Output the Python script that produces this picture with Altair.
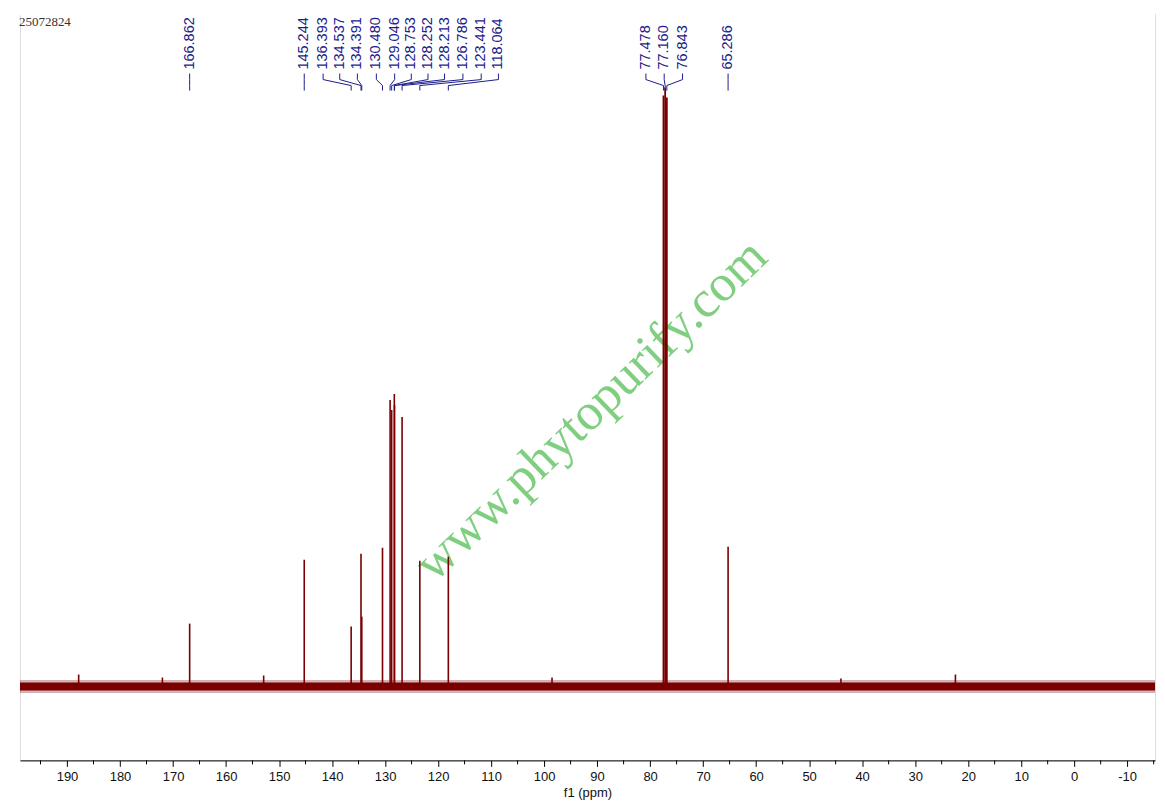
import altair as alt
import pandas as pd

# ---------------- data ----------------
header = "25072824"

peak_ppm = [166.862, 145.244, 136.393, 134.537, 134.391, 130.480, 129.046,
            128.753, 128.252, 128.213, 126.786, 123.441, 118.064,
            77.478, 77.160, 76.843, 65.286]
peak_int = [63, 127, 60, 133, 70, 139, 287,
            277, 293, 282, 270, 126, 130,
            592, 600, 590, 140]
# where each (rotated) peak label sits along the ppm axis
label_ppm = [166.862, 145.244, 141.68, 138.55, 135.22, 131.64, 128.19,
             125.05, 121.90, 118.78, 115.31, 111.86, 108.61,
             80.79, 77.34, 73.88, 65.286]

# a few visible noise spikes on the baseline
small_ppm = [187.8, 152.9, 22.4, 172.0, 98.5, 44.0]
small_int = [12, 11, 12, 9, 9, 8]

major_ticks = [190, 180, 170, 160, 150, 140, 130, 120, 110, 100, 90, 80,
               70, 60, 50, 40, 30, 20, 10, 0, -10]
minor_ticks = [195, 185, 175, 165, 155, 145, 135, 125, 115, 105, 95, 85,
               75, 65, 55, 45, 35, 25, 15, 5, -5, -15]

watermark = "www.phytopurify.com"
wm_ppm, wm_int = 91.15, 277

X_DOMAIN = [198.87, -15.25]
Y_DOMAIN = [-74, 674]
TEXT_Y = 618
CONN_Y = [614, 608, 602, 597]

SPEC = "#7a0000"
NAVY = "#1c1c8c"

W, H = 1137, 748

xs = alt.Scale(domain=X_DOMAIN, nice=False, zero=False)
ys = alt.Scale(domain=Y_DOMAIN, nice=False, zero=False)

peaks = pd.DataFrame({"ppm": peak_ppm + small_ppm,
                      "inten": peak_int + small_int})
labels = pd.DataFrame({"ppm": label_ppm,
                       "txt": [f"{p:.3f}" for p in peak_ppm]})
rows = []
for i, (p, l) in enumerate(zip(peak_ppm, label_ppm)):
    rows += [(i, 0, l, CONN_Y[0]), (i, 1, l, CONN_Y[1]),
             (i, 2, p, CONN_Y[2]), (i, 3, p, CONN_Y[3])]
conn = pd.DataFrame(rows, columns=["id", "o", "ppm", "y"])
base = pd.DataFrame({"x1": [X_DOMAIN[0]], "x2": [X_DOMAIN[1]], "y": [0]})
wm = pd.DataFrame({"ppm": [wm_ppm], "y": [wm_int], "t": [watermark]})
hd = pd.DataFrame({"t": [header]})
mt = pd.DataFrame({"ppm": minor_ticks})

xaxis = alt.Axis(
    values=major_ticks,
    labelExpr="'' + datum.value",
    tickSize=6, tickColor="black", domainColor="black", tickWidth=1, domainWidth=1,
    labelFont="Liberation Sans", labelFontSize=13, labelColor="#111",
    labelPadding=4, labelOverlap=False, labelFlush=False,
    title="f1 (ppm)", titleFont="Liberation Sans", titleFontSize=13,
    titleFontWeight="normal", titleColor="#111", titlePadding=3,
    grid=False,
)

X = alt.X("ppm:Q", scale=xs, axis=xaxis)


def Y(f):
    return alt.Y(f, scale=ys, axis=None)


wm_layer = alt.Chart(wm).mark_text(
    angle=316, font="Liberation Serif", fontSize=52, color="#80cf80",
    align="center", baseline="middle"
).encode(x=X, y=Y("y:Q"), text="t:N")

base_soft = alt.Chart(base).mark_rule(color=SPEC, strokeWidth=13, opacity=0.3,
                                      clip=True).encode(
    x=alt.X("x1:Q", scale=xs, axis=xaxis), x2="x2:Q", y=Y("y:Q"))
base_hard = alt.Chart(base).mark_rule(color=SPEC, strokeWidth=8, clip=True).encode(
    x=alt.X("x1:Q", scale=xs, axis=xaxis), x2="x2:Q", y=Y("y:Q"))

peak_layer = alt.Chart(peaks).mark_rule(color=SPEC).encode(
    x=X, y=Y("inten:Q"), y2=alt.datum(0),
    strokeWidth=alt.condition("datum.inten > 400", alt.value(1.8), alt.value(1.6)))

minor_layer = alt.Chart(mt).mark_rule(color="black", strokeWidth=1).encode(
    x=X, y=alt.value(H), y2=alt.value(H + 4))

conn_layer = alt.Chart(conn).mark_line(color=NAVY, strokeWidth=1).encode(
    x=X, y=Y("y:Q"), detail="id:N", order="o:Q")

label_layer = alt.Chart(labels).mark_text(
    angle=270, align="left", baseline="middle", font="Liberation Sans",
    fontSize=14.5, color=NAVY
).encode(x=X, y=alt.Y(datum=TEXT_Y, scale=ys, axis=None), text="txt:N")

hd_layer = alt.Chart(hd).mark_text(
    align="left", baseline="middle", font="Liberation Serif", fontSize=13,
    color="#333"
).encode(x=alt.value(-1), y=alt.value(8), text="t:N")

# white cover over the top edge of the plot frame
cover = alt.Chart(hd).mark_rule(color="white", strokeWidth=3).encode(
    x=alt.value(0), x2=alt.value(W), y=alt.value(0))

chart = alt.layer(
    wm_layer, base_soft, base_hard, peak_layer, minor_layer, conn_layer,
    label_layer, hd_layer, cover
).properties(
    width=W, height=H,
    padding={"left": 10, "top": 3, "right": 0, "bottom": 0},
).configure_view(strokeWidth=0, stroke="transparent").configure(background="white")

chart.save("out.html", embed_options={"renderer": "svg", "actions": False})
